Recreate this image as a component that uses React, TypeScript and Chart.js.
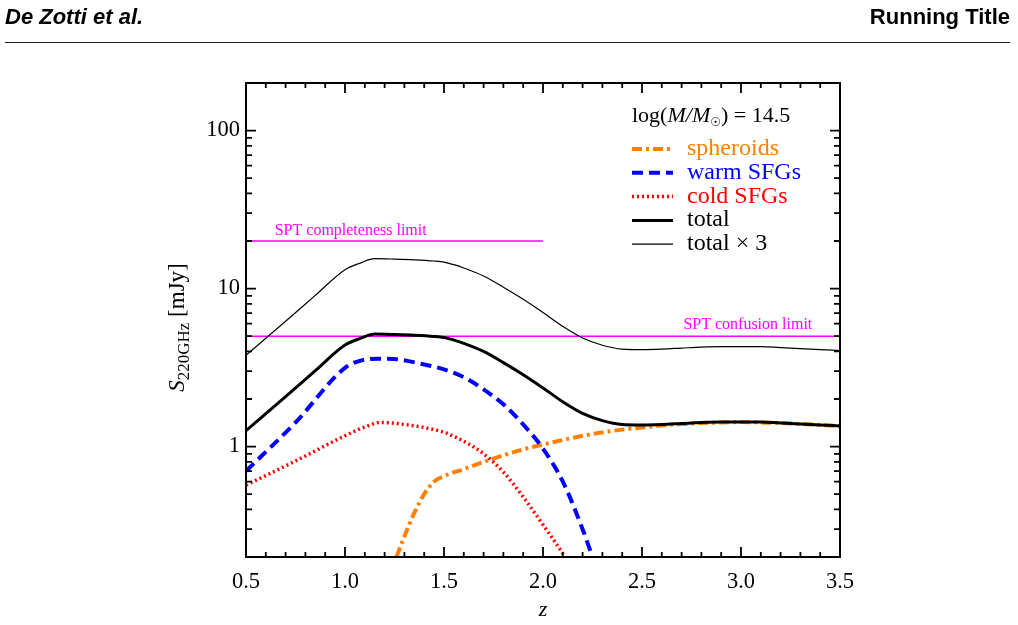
import React, { useEffect, useRef } from "react";
import { Chart, registerables } from "chart.js";

Chart.register(...registerables);

// ---- data: redshift z versus 220 GHz flux density (mJy) ----
const zSpheroids = [1.26, 1.3, 1.35, 1.4, 1.45, 1.5, 1.6, 1.7, 1.8, 1.9, 2.0, 2.1, 2.2, 2.3, 2.4, 2.5, 2.6, 2.7, 2.8, 2.9, 3.0, 3.1, 3.2, 3.3, 3.4, 3.5];
const sSpheroids = [0.2, 0.27, 0.38, 0.5, 0.6, 0.65, 0.72, 0.8, 0.88, 0.96, 1.03, 1.1, 1.17, 1.23, 1.28, 1.32, 1.36, 1.39, 1.41, 1.42, 1.43, 1.42, 1.41, 1.39, 1.37, 1.35];

const zWarm = [0.5, 0.75, 1.0, 1.08, 1.17, 1.25, 1.38, 1.5, 1.6, 1.7, 1.8, 1.9, 2.0, 2.1, 2.2, 2.25];
const sWarm = [0.7, 1.42, 3.15, 3.5, 3.6, 3.58, 3.35, 3.08, 2.75, 2.3, 1.85, 1.38, 0.97, 0.6, 0.3, 0.2];

const zCold = [0.5, 0.75, 1.0, 1.1, 1.18, 1.3, 1.4, 1.5, 1.6, 1.7, 1.8, 1.9, 2.0, 2.1, 2.11];
const sCold = [0.57, 0.81, 1.17, 1.33, 1.42, 1.38, 1.32, 1.23, 1.08, 0.9, 0.69, 0.48, 0.32, 0.21, 0.2];

const zTotal = [0.5, 0.7, 0.85, 1.0, 1.08, 1.15, 1.25, 1.35, 1.45, 1.5, 1.55, 1.6, 1.7, 1.8, 1.9, 2.0, 2.1, 2.2, 2.3, 2.4, 2.5, 2.6, 2.7, 2.8, 2.9, 3.0, 3.1, 3.2, 3.3, 3.4, 3.5];
const sTotal = [1.26, 2.07, 3.02, 4.39, 4.85, 5.15, 5.12, 5.07, 4.98, 4.9, 4.72, 4.5, 4.0, 3.4, 2.85, 2.35, 1.92, 1.62, 1.46, 1.38, 1.37, 1.38, 1.4, 1.42, 1.43, 1.43, 1.43, 1.41, 1.39, 1.37, 1.35];

// the thin curve is the total multiplied by this factor
const TOTAL_FACTOR = 3;
const sTotalScaled = sTotal.map((v) => v * TOTAL_FACTOR);

// SPT limits (mJy) and the redshift span of each line
const completenessLimit = 20;
const completenessSpan = [0.5, 2.0];
const confusionLimit = 5;
const confusionSpan = [0.5, 3.5];

// axes
const zRange = [0.5, 3.5];
const fluxRange = [0.2, 200];
const zTickValues = [0.5, 1.0, 1.5, 2.0, 2.5, 3.0, 3.5];
const fluxTickValues = [1, 10, 100];

const legendLabels = ["spheroids", "warm SFGs", "cold SFGs", "total", "total \u00d7 3"];

const SERIF = "'Liberation Serif', 'Times New Roman', serif";
const SANS = "'Liberation Sans', Arial, sans-serif";

const ORANGE = "#ff8000";
const BLUE = "#0000ff";
const RED = "#ff0000";
const MAGENTA = "#ff00ff";

function toPoints(xs: number[], ys: number[]) {
  return xs.map((x, i) => ({ x, y: ys[i] }));
}

const decorations = {
  id: "decorations",
  afterDraw(chart: any) {
    const ctx: CanvasRenderingContext2D = chart.ctx;
    const area = chart.chartArea;
    const xs = chart.scales.x;
    const ys = chart.scales.y;

    ctx.save();

    // page header
    ctx.fillStyle = "#000";
    ctx.textBaseline = "alphabetic";
    ctx.font = `italic bold 22px ${SANS}`;
    ctx.textAlign = "left";
    ctx.fillText("De Zotti et al.", 5, 24);
    ctx.font = `bold 22px ${SANS}`;
    ctx.textAlign = "right";
    ctx.fillText("Running Title", 1010, 24);
    ctx.strokeStyle = "#222";
    ctx.lineWidth = 1.2;
    ctx.beginPath();
    ctx.moveTo(5, 42.5);
    ctx.lineTo(1010, 42.5);
    ctx.stroke();

    // frame
    ctx.strokeStyle = "#000";
    ctx.lineWidth = 2;
    ctx.strokeRect(area.left, area.top, area.right - area.left, area.bottom - area.top);

    // inward ticks on all four sides
    ctx.lineWidth = 1.8;
    ctx.beginPath();
    for (let k = 5; k <= 35; k++) {
      const v = k / 10;
      const px = xs.getPixelForValue(v);
      const len = k % 5 === 0 ? 10 : 5;
      ctx.moveTo(px, area.bottom);
      ctx.lineTo(px, area.bottom - len);
      ctx.moveTo(px, area.top);
      ctx.lineTo(px, area.top + len);
    }
    for (const decade of [0.1, 1, 10, 100]) {
      for (let m = 1; m <= 9; m++) {
        const v = m * decade;
        if (v < fluxRange[0] - 1e-9 || v > fluxRange[1] + 1e-9) continue;
        const py = ys.getPixelForValue(v);
        const len = m === 1 ? 10 : 6;
        ctx.moveTo(area.left, py);
        ctx.lineTo(area.left + len, py);
        ctx.moveTo(area.right, py);
        ctx.lineTo(area.right - len, py);
      }
    }
    ctx.stroke();

    // limit labels
    ctx.fillStyle = MAGENTA;
    ctx.font = `16px ${SERIF}`;
    ctx.textAlign = "left";
    ctx.fillText("SPT completeness limit", xs.getPixelForValue(0.645), ys.getPixelForValue(completenessLimit) - 6);
    ctx.textAlign = "right";
    ctx.fillText("SPT confusion limit", xs.getPixelForValue(3.36), ys.getPixelForValue(confusionLimit) - 7);

    // legend header: log(M/M_sun) = 14.5
    ctx.fillStyle = "#000";
    ctx.textAlign = "left";
    let cx = 632;
    const hb = 122;
    const piece = (t: string, font: string, dy = 0) => {
      ctx.font = font;
      ctx.fillText(t, cx, hb + dy);
      cx += ctx.measureText(t).width;
    };
    piece("log(", `22px ${SERIF}`);
    piece("M", `italic 22px ${SERIF}`);
    piece("/", `italic 22px ${SERIF}`);
    piece("M", `italic 22px ${SERIF}`);
    piece("\u2609", `12px 'DejaVu Sans', sans-serif`, 4);
    piece(") = 14.5", `22px ${SERIF}`);

    // legend entries drawn with the styles of their datasets
    const textColors = [ORANGE, BLUE, RED, "#000", "#000"];
    legendLabels.forEach((label, i) => {
      const ds = chart.data.datasets.find((d: any) => d.label === label);
      const base = 155 + i * 23.8;
      const ly = base - 6;
      ctx.strokeStyle = ds.borderColor;
      ctx.lineWidth = ds.borderWidth;
      ctx.setLineDash(ds.borderDash || []);
      ctx.beginPath();
      ctx.moveTo(632, ly);
      ctx.lineTo(673, ly);
      ctx.stroke();
      ctx.setLineDash([]);
      ctx.fillStyle = textColors[i];
      ctx.font = `24px ${SERIF}`;
      ctx.textAlign = "left";
      ctx.fillText(label, 687, base);
    });

    // x axis title
    ctx.fillStyle = "#000";
    ctx.font = `italic 22px ${SERIF}`;
    ctx.textAlign = "center";
    ctx.fillText("z", (area.left + area.right) / 2, 616);

    // y axis title: S_220GHz [mJy]
    const main = `23px ${SERIF}`;
    const mainIt = `italic 23px ${SERIF}`;
    const sub = `17px ${SERIF}`;
    ctx.font = mainIt;
    const w1 = ctx.measureText("S").width;
    ctx.font = sub;
    const w2 = ctx.measureText("220GHz").width;
    ctx.font = main;
    const w3 = ctx.measureText(" [mJy]").width;
    const total = w1 + w2 + w3;
    ctx.translate(183.5, 327.5);
    ctx.rotate(-Math.PI / 2);
    ctx.textAlign = "left";
    let tx = -total / 2;
    ctx.font = mainIt;
    ctx.fillText("S", tx, 0);
    tx += w1;
    ctx.font = sub;
    ctx.fillText("220GHz", tx, 5);
    tx += w2;
    ctx.font = main;
    ctx.fillText(" [mJy]", tx, 0);

    ctx.restore();
  },
};

export default function App() {
  const canvasRef = useRef<HTMLCanvasElement | null>(null);

  useEffect(() => {
    const canvas = canvasRef.current;
    if (!canvas) return;

    const line = (label: string, data: any[], color: string, width: number, dash: number[], order: number) => ({
      label,
      data,
      borderColor: color,
      backgroundColor: color,
      borderWidth: width,
      borderDash: dash,
      pointRadius: 0,
      fill: false,
      cubicInterpolationMode: "monotone" as const,
      order,
    });

    const chart = new Chart(canvas, {
      type: "line",
      data: {
        datasets: [
          line("SPT completeness", [
            { x: completenessSpan[0], y: completenessLimit },
            { x: completenessSpan[1], y: completenessLimit },
          ], MAGENTA, 1.5, [], 7),
          line("SPT confusion", [
            { x: confusionSpan[0], y: confusionLimit },
            { x: confusionSpan[1], y: confusionLimit },
          ], MAGENTA, 1.5, [], 6),
          line("spheroids", toPoints(zSpheroids, sSpheroids), ORANGE, 4, [10, 4, 3, 4], 5),
          line("warm SFGs", toPoints(zWarm, sWarm), BLUE, 4, [11, 6], 4),
          line("cold SFGs", toPoints(zCold, sCold), RED, 3.5, [2, 3], 3),
          line("total", toPoints(zTotal, sTotal), "#000", 3, [], 2),
          line("total \u00d7 3", toPoints(zTotal, sTotalScaled), "#000", 1.2, [], 1),
        ],
      },
      options: {
        responsive: false,
        animation: false,
        events: [],
        layout: { padding: { left: 0, right: 178, top: 83, bottom: 0 } },
        plugins: {
          legend: { display: false },
          tooltip: { enabled: false },
          title: { display: false },
        },
        scales: {
          x: {
            type: "linear",
            min: zRange[0],
            max: zRange[1],
            grid: { display: false, drawTicks: false },
            border: { display: false },
            afterBuildTicks: (axis: any) => {
              axis.ticks = zTickValues.map((value) => ({ value }));
            },
            afterFit: (axis: any) => {
              axis.height = 68;
            },
            ticks: {
              color: "#000",
              font: { family: SERIF, size: 22.5 },
              padding: 12,
              maxRotation: 0,
              autoSkip: false,
              callback: (v: any) => Number(v).toFixed(1),
            },
          },
          y: {
            type: "logarithmic",
            min: fluxRange[0],
            max: fluxRange[1],
            grid: { display: false, drawTicks: false },
            border: { display: false },
            afterBuildTicks: (axis: any) => {
              axis.ticks = fluxTickValues.map((value) => ({ value }));
            },
            afterFit: (axis: any) => {
              axis.width = 246;
            },
            ticks: {
              color: "#000",
              font: { family: SERIF, size: 22.5 },
              padding: 6,
              autoSkip: false,
              callback: (v: any) => String(v),
            },
          },
        },
      },
      plugins: [decorations],
    });

    return () => chart.destroy();
  }, []);

  return (
    <div style={{ position: "absolute", left: 0, top: 0, width: 1018, height: 625, background: "#fff" }}>
      <canvas ref={canvasRef} width={1018} height={625} style={{ display: "block" }} />
    </div>
  );
}
